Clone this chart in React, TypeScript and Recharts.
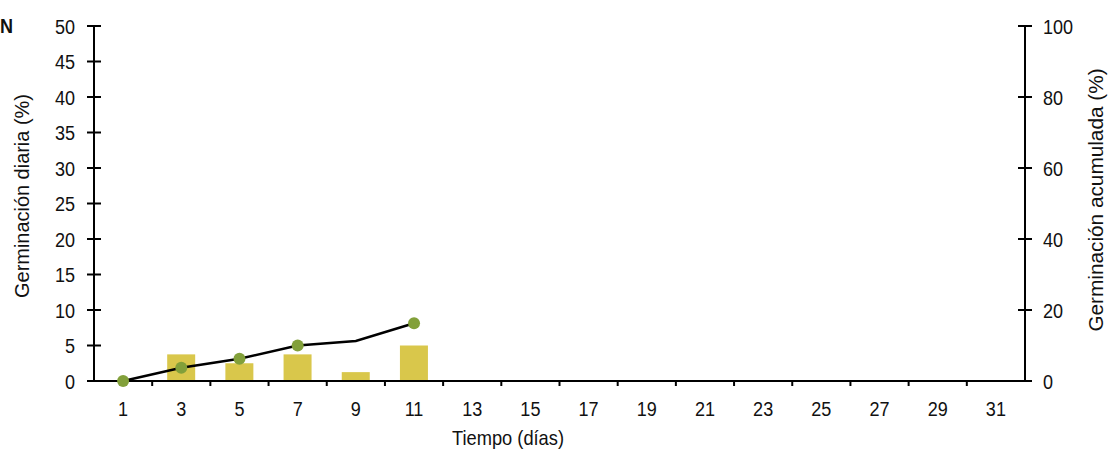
import React from "react";
import { ComposedChart, Bar, Line, XAxis, YAxis, Label } from "recharts";

// days with a reading (odd days only)
const days = [1, 3, 5, 7, 9, 11];
// daily germination (%), left axis
const daily = [0, 3.75, 2.5, 3.75, 1.25, 5];
// cumulative germination (%), right axis
const cumulative = [0, 3.75, 6.25, 10, 11.25, 16.25];
// days that get a round marker on the cumulative line
const markerDays = [1, 3, 5, 7, 11];

const xTicks = Array.from({ length: 31 }, (_, i) => i + 1);
const leftTicks = [0, 5, 10, 15, 20, 25, 30, 35, 40, 45, 50];
const rightTicks = [0, 20, 40, 60, 80, 100];

const data = days.map((d, i) => ({ day: d, daily: daily[i], cumulative: cumulative[i] }));

const FONT = "'Liberation Sans', Arial, sans-serif";
const FS = 21;
const BAR = "#d9c74b";
const DOT = "#82a03a";

// narrow-looking text: the reference uses a condensed grotesque
const NText = ({ x, y, anchor = "start", rotate = 0, sx = 0.86, bold = false, children }: any) => (
  <text
    transform={`translate(${x} ${y}) rotate(${rotate}) scale(${sx} 1)`}
    x={0}
    y={0}
    textAnchor={anchor}
    fontFamily={FONT}
    fontSize={FS}
    fontWeight={bold ? "bold" : "normal"}
    fill="#111"
  >
    {children}
  </text>
);

const XTick = (props: any) => {
  const { x, y, payload } = props;
  const v = payload.value;
  if (v % 2 === 0) {
    return <line x1={x} x2={x} y1={y} y2={y + 5} stroke="#000" strokeWidth={2} />;
  }
  return (
    <NText x={x} y={y + 35} anchor="middle">
      {v}
    </NText>
  );
};

const LeftTick = (props: any) => {
  const { x, y, payload } = props;
  return (
    <g>
      <line x1={x - 7} x2={x + 7} y1={y} y2={y} stroke="#000" strokeWidth={2} />
      <NText x={x - 19} y={y + 7.5} anchor="end">
        {payload.value}
      </NText>
    </g>
  );
};

const RightTick = (props: any) => {
  const { x, y, payload } = props;
  return (
    <g>
      <line x1={x - 7} x2={x + 7} y1={y} y2={y} stroke="#000" strokeWidth={2} />
      <NText x={x + 18} y={y + 7.5} anchor="start">
        {payload.value}
      </NText>
    </g>
  );
};

const renderDot = (props: any) => {
  const { cx, cy, payload, index } = props;
  if (!markerDays.includes(payload.day)) return <g key={`d-${index}`} />;
  return <circle key={`d-${index}`} cx={cx} cy={cy} r={6} fill={DOT} stroke="none" />;
};

export default function App() {
  return (
    <div>
      <style>{`body{margin:0}`}</style>
      <ComposedChart
        width={1109}
        height={450}
        data={data}
        margin={{ top: 26, right: 14, bottom: 19, left: 14 }}
      >
        <XAxis
          dataKey="day"
          type="number"
          domain={[0, 32]}
          ticks={xTicks}
          interval={0}
          tick={<XTick />}
          tickLine={false}
          tickSize={0}
          tickMargin={0}
          height={50}
          axisLine={{ stroke: "#000", strokeWidth: 2 }}
        >
          <Label
            content={(p: any) => (
              <NText x={p.viewBox.x + 414} y={p.viewBox.y + 64} anchor="middle" sx={0.87}>
                Tiempo (días)
              </NText>
            )}
          />
        </XAxis>
        <YAxis
          yAxisId="left"
          domain={[0, 50]}
          ticks={leftTicks}
          interval={0}
          width={80}
          tick={<LeftTick />}
          tickLine={false}
          tickSize={0}
          tickMargin={0}
          axisLine={{ stroke: "#000", strokeWidth: 2 }}
        >
          <Label
            content={(p: any) => (
              <NText
                x={p.viewBox.x + 15}
                y={p.viewBox.y + p.viewBox.height / 2 - 7.5}
                anchor="middle"
                rotate={-90}
                sx={0.95}
              >
                Germinación diaria (%)
              </NText>
            )}
          />
        </YAxis>
        <YAxis
          yAxisId="right"
          orientation="right"
          domain={[0, 100]}
          ticks={rightTicks}
          interval={0}
          width={70}
          tick={<RightTick />}
          tickLine={false}
          tickSize={0}
          tickMargin={0}
          axisLine={{ stroke: "#000", strokeWidth: 2 }}
        >
          <Label
            content={(p: any) => (
              <NText
                x={p.viewBox.x + 78}
                y={p.viewBox.y + p.viewBox.height / 2 - 3.5}
                anchor="middle"
                rotate={-90}
                sx={0.99}
              >
                Germinación acumulada (%)
              </NText>
            )}
          />
        </YAxis>
        <Bar yAxisId="left" dataKey="daily" fill={BAR} barSize={28} isAnimationActive={false} />
        <Line
          yAxisId="right"
          dataKey="cumulative"
          type="linear"
          stroke="#000"
          strokeWidth={2.5}
          dot={renderDot}
          activeDot={false}
          isAnimationActive={false}
        />
        <NText x={0} y={33} bold>
          N
        </NText>
      </ComposedChart>
    </div>
  );
}
